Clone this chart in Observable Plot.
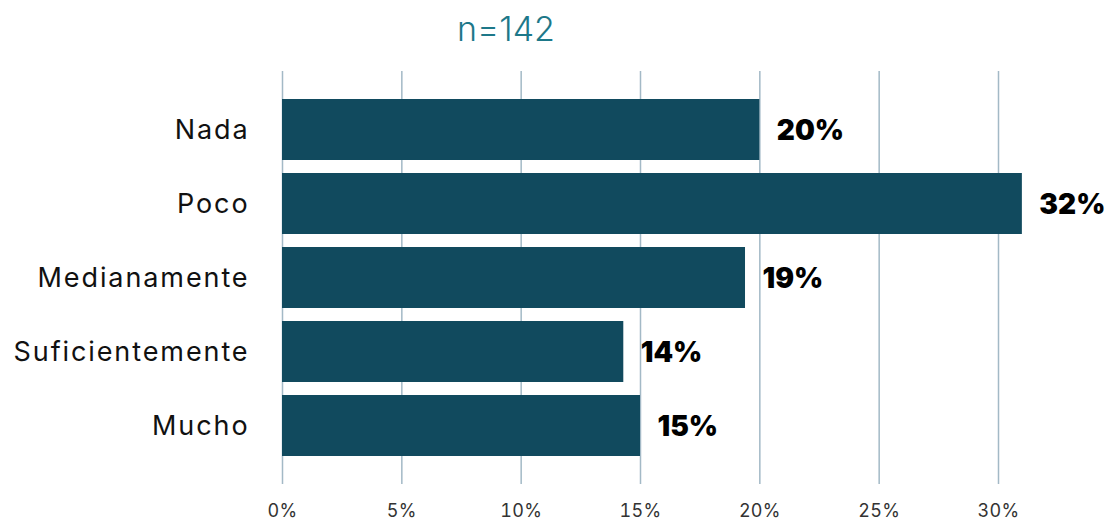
<!DOCTYPE html>
<html>
<head>
<meta charset="utf-8">
<script src="https://cdn.jsdelivr.net/npm/d3@7"></script>
<script src="https://cdn.jsdelivr.net/npm/@observablehq/plot@0.6"></script>
<style>
  body { margin: 0; background: #fff; }
  #title { height: 60px; width: 1112px; position: relative; font-family: "Inter", "Noto Sans", sans-serif; }
  #title span { position: absolute; left: 506px; top: 28px; transform: translate(-50%, -50%); font-size: 34px; color: #1d7889; font-weight: 300; white-space: nowrap; }
  g[aria-label="y-axis tick label"] text { letter-spacing: 1.9px; }
  g[aria-label="x-axis tick label"] text { letter-spacing: 0.3px; }
</style>
</head>
<body>
<div id="title"><span>n=142</span></div>
<div id="chart"></div>
<script>
const categories = ["Nada", "Poco", "Medianamente", "Suficientemente", "Mucho"];
const values = [20.0, 31.0, 19.4, 14.3, 15.0];
const labels = ["20%", "32%", "19%", "14%", "15%"];
const ticks = [0, 5, 10, 15, 20, 25, 30];

const data = categories.map((c, i) => ({cat: c, value: values[i], label: labels[i]}));

const chart = Plot.plot({
  width: 1112,
  height: 461,
  marginTop: 11,
  marginBottom: 37,
  marginLeft: 282,
  marginRight: 114,
  style: {fontFamily: "Inter, 'Noto Sans', sans-serif", background: "#fff"},
  x: {domain: [0, 30], ticks: ticks, tickFormat: d => d + "%", label: null},
  y: {domain: categories, paddingInner: 0.18, paddingOuter: 0.37, align: 0.5, label: null},
  marks: [
    Plot.ruleX(ticks, {stroke: "#a3b9c6", strokeWidth: 1.5}),
    Plot.barX(data, {y: "cat", x: "value", fill: "#114a5e"}),
    Plot.text(data, {y: "cat", x: "value", text: "label", textAnchor: "start", dx: 17, dy: 1, fontSize: 28, fontWeight: 900, fill: "#000"}),
    Plot.axisX({ticks: ticks, tickFormat: d => d + "%", tickSize: 0, tickPadding: 20, fontSize: 18, fill: "#333", label: null}),
    Plot.axisY({tickSize: 0, tickPadding: 33, fontSize: 27, fill: "#111", label: null})
  ]
});
document.getElementById("chart").appendChild(chart);
</script>
</body>
</html>
